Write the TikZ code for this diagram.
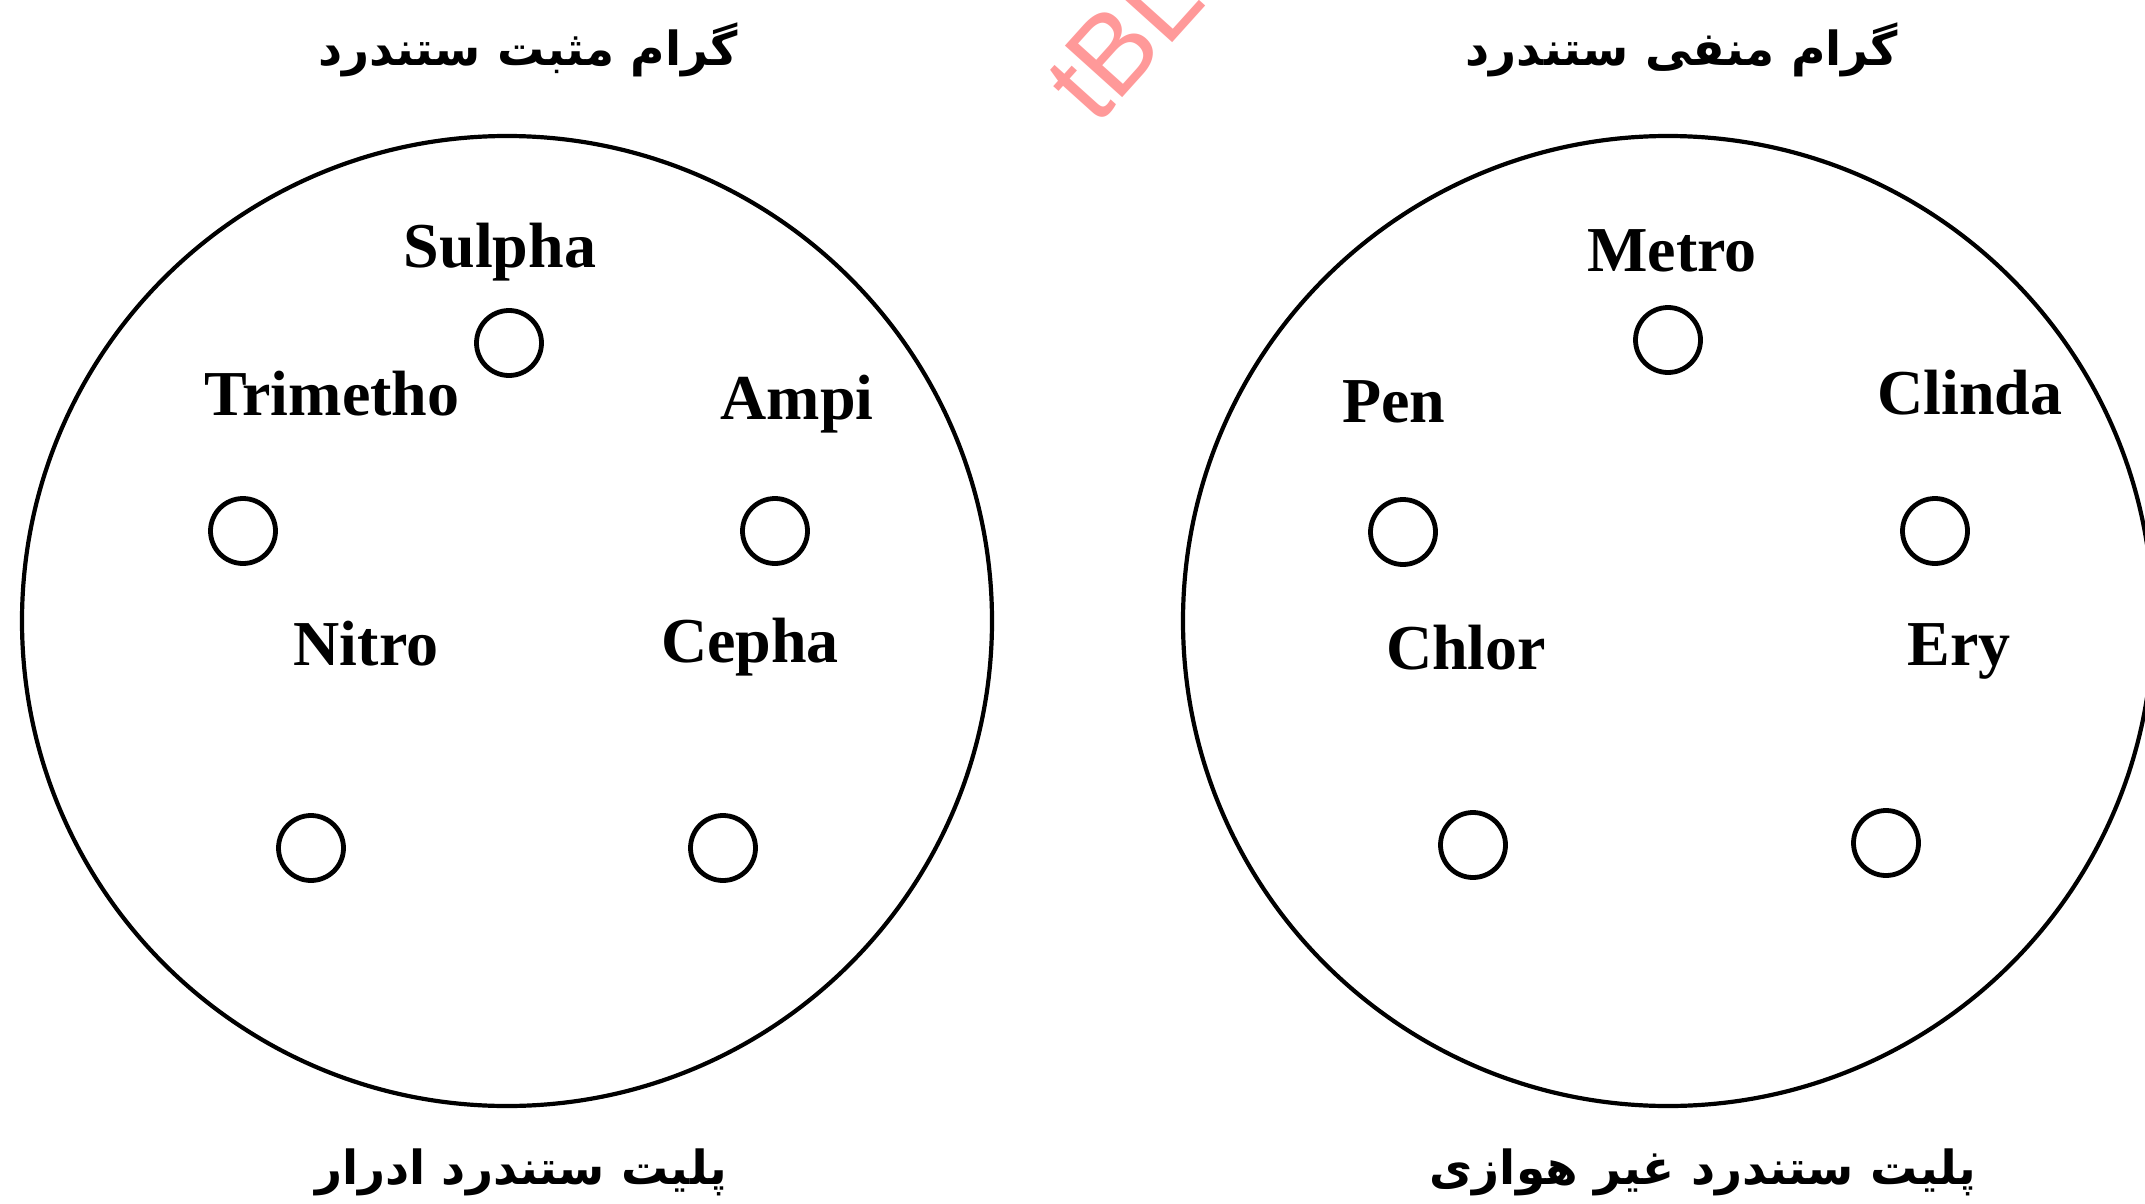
\documentclass[tikz,border=0pt]{standalone}
\usepackage{fontspec}
\setmainfont{Liberation Serif}
\newfontfamily\fa[Script=Arabic]{DejaVu Sans}
\newfontfamily\wmfont{Liberation Sans}
\TeXXeTstate=1
\begin{document}
\begin{tikzpicture}[x=1pt,y=-1pt,
  plate/.style={draw, circle, line width=4.2pt, minimum size=970pt, inner sep=0pt},
  well/.style={draw, circle, line width=4.8pt, minimum size=65pt, inner sep=0pt},
  drug/.style={font=\fontsize{64}{70}\selectfont\bfseries, anchor=base, inner sep=0pt},
  title/.style={font=\fa\fontsize{47}{56}\selectfont\bfseries, anchor=base, inner sep=0pt},
  wmark/.style={text=red!40, font=\wmfont\fontsize{112}{120}\selectfont, inner sep=0pt}]
\useasboundingbox (0,0) rectangle (2145,1204);
\clip (0,0) rectangle (2145,1204);
\fill[white] (0,0) rectangle (2145,1204);
% watermark
\node[wmark, rotate=48] (wm) at (1124,40) {tBL};
% plates
\node[plate] (P1) at (507,621) {};
\node[plate] (P2) at (1668,621) {};
% titles
\node[title] (t1) at (528,66) {\beginR گرام مثبت ستندرد\endR};
\node[title] (t2) at (1682,66) {\beginR گرام منفی ستندرد\endR};
\node[title] (b1) at (521,1184) {\beginR پلیت ستندرد ادرار\endR};
\node[title] (b2) at (1703,1184) {\beginR پلیت ستندرد غیر هوازی\endR};
% left plate
\node[drug] (sul) at (500,267) {Sulpha};
\node[drug] (tri) at (332,415) {Trimetho};
\node[drug] (amp) at (797,419) {Ampi};
\node[drug] (nit) at (366,665) {Nitro};
\node[drug] (cep) at (750,662) {Cepha};
\node[well] (w1) at (509,343) {};
\node[well] (w2) at (243,531) {};
\node[well] (w3) at (775,531) {};
\node[well] (w4) at (311,848) {};
\node[well] (w5) at (723,848) {};
% right plate
\node[drug] (met) at (1672,271) {Metro};
\node[drug] (pen) at (1394,422) {Pen};
\node[drug] (cli) at (1970,414) {Clinda};
\node[drug] (chl) at (1466,669) {Chlor};
\node[drug] (ery) at (1959,665) {Ery};
\node[well] (v1) at (1668,340) {};
\node[well] (v2) at (1403,532) {};
\node[well] (v3) at (1935,531) {};
\node[well] (v4) at (1473,845) {};
\node[well] (v5) at (1886,843) {};
\end{tikzpicture}
\end{document}
